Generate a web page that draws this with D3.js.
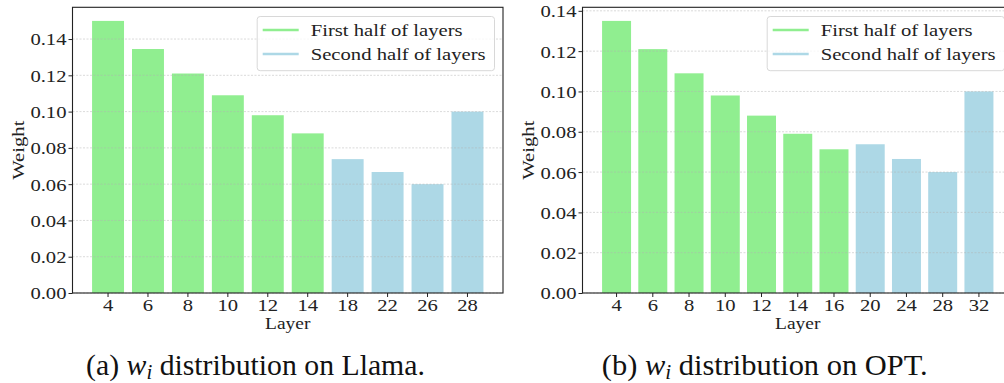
<!DOCTYPE html>
<html>
<head>
<meta charset="utf-8">
<script src="https://cdn.jsdelivr.net/npm/d3@7"></script>
<style>
  html, body { margin: 0; padding: 0; background: #fff; }
  svg { display: block; }
</style>
</head>
<body>
<svg id="chart" width="1004" height="383"></svg>
<script>
// ---- data ----
const llamaLayers = ["4", "6", "8", "10", "12", "14", "18", "22", "26", "28"];
const llamaWeights = [0.150, 0.1345, 0.121, 0.109, 0.098, 0.088, 0.0738, 0.0667, 0.060, 0.100];
const llamaFirstHalfCount = 6;

const optLayers = ["4", "6", "8", "10", "12", "14", "16", "20", "24", "28", "32"];
const optWeights = [0.135, 0.121, 0.109, 0.098, 0.088, 0.079, 0.0713, 0.0738, 0.0665, 0.060, 0.100];
const optFirstHalfCount = 7;

const yTicks = [0, 0.02, 0.04, 0.06, 0.08, 0.10, 0.12, 0.14];
const legendLabels = ["First half of layers", "Second half of layers"];
const xLabel = "Layer";
const yLabel = "Weight";
const captionLeft = ["(a) ", "w", "i", " distribution on Llama."];
const captionRight = ["(b) ", "w", "i", " distribution on OPT."];

// ---- style ----
const green = "#90EE90";
const blue = "#ADD8E6";
const capFont = "'Liberation Serif', serif";
const serif = "'Liberation Serif', serif";
const fs = 17.5;
const stretch = 1.18;

const svg = d3.select("#chart");

function panel(opts) {
  const { layers, values, nFirst, x0, x1, yTop, yBot, ylabX } = opts;
  const n = layers.length;
  const margin = 0.05 * (n - 0.2);
  const x = d3.scaleBand().domain(layers).range([x0, x1])
    .paddingInner(0.2).paddingOuter(margin).align(0.5);
  const ymax = d3.max(values) * 1.05;
  const y = d3.scaleLinear().domain([0, ymax]).range([yBot, yTop]);

  const g = svg.append("g");

  // bars
  g.selectAll("rect.bar").data(values).enter().append("rect")
    .attr("class", "bar")
    .attr("x", (d, i) => x(layers[i]))
    .attr("width", x.bandwidth())
    .attr("y", d => y(d))
    .attr("height", d => y(0) - y(d))
    .attr("fill", (d, i) => i < nFirst ? green : blue);

  // grid
  g.append("g").selectAll("line").data(yTicks.filter(t => t <= ymax)).enter().append("line")
    .attr("x1", x0).attr("x2", x1)
    .attr("y1", d => y(d)).attr("y2", d => y(d))
    .attr("stroke", "#b0b0b0").attr("stroke-opacity", 0.6)
    .attr("stroke-width", 0.8).attr("stroke-dasharray", "2,1.5");

  // axes
  const yAxis = d3.axisLeft(y).tickValues(yTicks.filter(t => t <= ymax))
    .tickFormat(d3.format(".2f")).tickSize(4).tickPadding(2);
  const ya = g.append("g").attr("transform", `translate(${x0},0)`).call(yAxis);
  const xAxis = d3.axisBottom(x).tickSize(4).tickPadding(2);
  const xa = g.append("g").attr("transform", `translate(0,${yBot})`).call(xAxis);
  [ya, xa].forEach(a => {
    a.select(".domain").remove();
    a.selectAll("line").attr("stroke", "#222").attr("stroke-width", 1);
    a.selectAll("text").attr("class", "dv").attr("font-family", serif).attr("font-size", fs).attr("fill", "#222");
  });
  ya.selectAll("text").attr("dy", "0.34em");
  xa.selectAll("text").attr("dy", "0.66em");

  // spines
  g.append("rect").attr("x", x0).attr("y", yTop).attr("width", x1 - x0).attr("height", yBot - yTop)
    .attr("fill", "none").attr("stroke", "#222").attr("stroke-width", 1.1);

  // axis labels
  g.append("text").attr("class", "dv").attr("x", (x0 + x1) / 2).attr("y", 329)
    .attr("text-anchor", "middle").attr("font-family", serif).attr("font-size", 16.5).attr("fill", "#222")
    .text(xLabel);
  g.append("text").attr("class", "dv").attr("transform", `translate(${ylabX},${(yTop + yBot) / 2}) rotate(-90)`)
    .attr("text-anchor", "middle").attr("font-family", serif).attr("font-size", fs).attr("fill", "#222")
    .text(yLabel);

  // legend
  const bw = 237.3, bx = x1 - 8.5 - bw, by = 16.5, bh = 54.2;
  const lg = g.append("g");
  lg.append("rect").attr("x", bx).attr("y", by).attr("width", bw).attr("height", bh)
    .attr("rx", 3).attr("fill", "#fff").attr("fill-opacity", 0.8)
    .attr("stroke", "#d8d8d8").attr("stroke-width", 1);
  [green, blue].forEach((c, i) => {
    const ly = 30 + i * 24;
    lg.append("line").attr("x1", bx + 5.5).attr("x2", bx + 41.5).attr("y1", ly).attr("y2", ly)
      .attr("stroke", c).attr("stroke-width", 2.5);
    lg.append("text").attr("class", "dv").attr("x", bx + 53.5).attr("y", ly + 5.5)
      .attr("font-family", serif).attr("font-size", fs).attr("fill", "#222")
      .text(legendLabels[i]);
  });
}

panel({ layers: llamaLayers, values: llamaWeights, nFirst: llamaFirstHalfCount,
        x0: 72.5, x1: 503, yTop: 7.3, yBot: 293, ylabX: 23.5 });
panel({ layers: optLayers, values: optWeights, nFirst: optFirstHalfCount,
        x0: 582.5, x1: 1013, yTop: 7.3, yBot: 293, ylabX: 533.5 });

svg.selectAll("text.dv").each(function () {
  const w = this.getComputedTextLength();
  if (w > 0) d3.select(this).attr("textLength", w * stretch).attr("lengthAdjust", "spacingAndGlyphs");
});

function caption(parts, cx, targetW) {
  const t = svg.append("text").attr("x", cx).attr("y", 375)
    .attr("text-anchor", "middle").attr("font-family", capFont).attr("font-size", 24).attr("fill", "#111");
  t.append("tspan").text(parts[0]);
  t.append("tspan").attr("font-style", "italic").text(parts[1]);
  t.append("tspan").attr("font-style", "italic").attr("font-size", 17).attr("dy", 4).text(parts[2]);
  t.append("tspan").attr("dy", -4).text(parts[3]);
  const w = t.node().getComputedTextLength();
  if (w > 0) {
    const f = 24 * targetW / w;
    t.attr("font-size", f);
    t.selectAll("tspan").filter((d, i) => i === 2).attr("font-size", f * 0.7);
  }
}
caption(captionLeft, 255.5, 339);
caption(captionRight, 764.7, 326);
</script>
</body>
</html>
